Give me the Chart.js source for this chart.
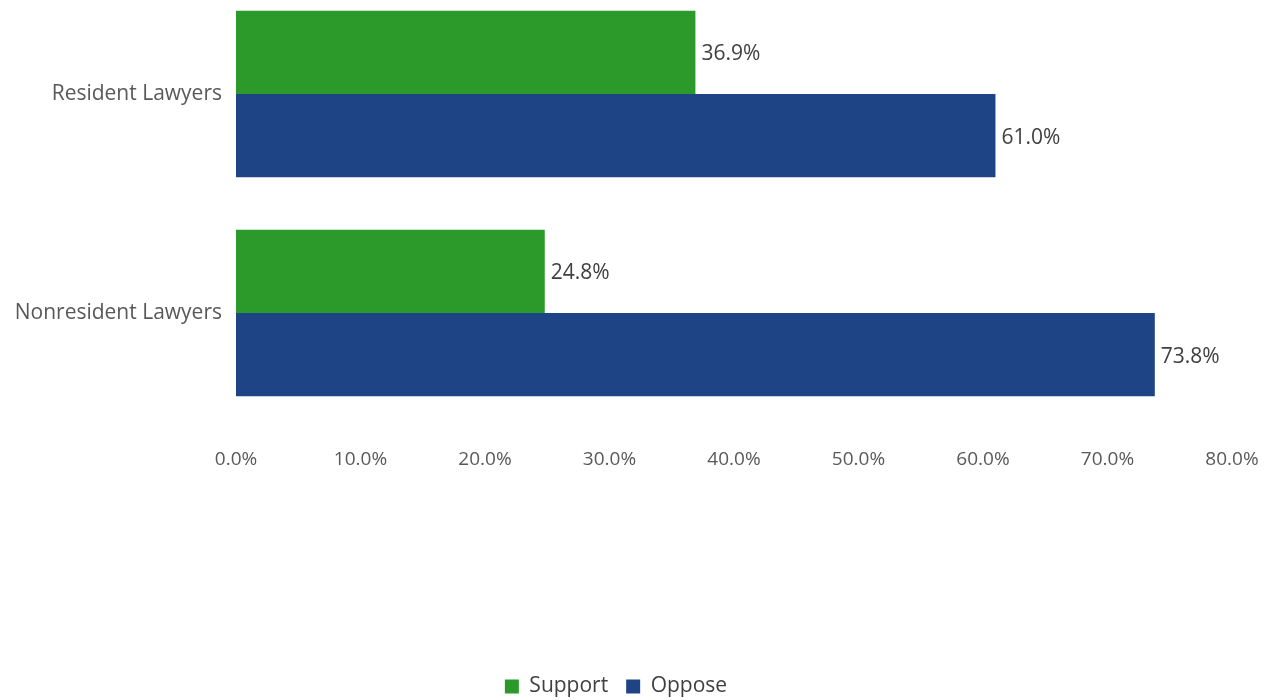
<!DOCTYPE html>
<html>
<head>
<meta charset="utf-8">
<script src="https://cdn.jsdelivr.net/npm/chart.js@4.4.1/dist/chart.umd.min.js"></script>
<style>
  html, body { margin: 0; padding: 0; background: #ffffff; }
  #wrap { width: 1272px; height: 700px; position: relative; }
</style>
</head>
<body>
<div id="wrap"><canvas id="c" width="1272" height="700"></canvas></div>
<script>
const categories = ["Resident Lawyers", "Nonresident Lawyers"];
const supportValues = [36.9, 24.8];
const opposeValues = [61.0, 73.8];
const seriesNames = ["Support", "Oppose"];
const xTickValues = [0, 10, 20, 30, 40, 50, 60, 70, 80];

const GREEN = "#2b9a2b";
const BLUE = "#1f4486";
const FONT = "'Open Sans', 'Noto Sans', sans-serif";

const valueLabels = {
  id: "valueLabels",
  afterDatasetsDraw(chart) {
    const ctx = chart.ctx;
    ctx.save();
    ctx.font = "21px " + FONT;
    ctx.fillStyle = "#404040";
    ctx.textAlign = "left";
    ctx.textBaseline = "middle";
    chart.data.datasets.forEach((ds, di) => {
      const meta = chart.getDatasetMeta(di);
      meta.data.forEach((bar, i) => {
        ctx.fillText(ds.data[i].x.toFixed(1) + "%", bar.x + 6, bar.y + 2);
      });
    });
    ctx.restore();
  }
};

new Chart(document.getElementById("c"), {
  type: "bar",
  data: {
    datasets: [
      {
        label: seriesNames[0],
        data: categories.map((c, i) => ({ y: i, x: supportValues[i] })),
        backgroundColor: GREEN,
        categoryPercentage: 0.76,
        barPercentage: 1.0
      },
      {
        label: seriesNames[1],
        data: categories.map((c, i) => ({ y: i, x: opposeValues[i] })),
        backgroundColor: BLUE,
        categoryPercentage: 0.76,
        barPercentage: 1.0
      }
    ]
  },
  options: {
    indexAxis: "y",
    responsive: false,
    animation: false,
    devicePixelRatio: 1,
    layout: { padding: { top: 0, right: 40, bottom: -7, left: 0 } },
    scales: {
      x: {
        type: "linear",
        min: 0,
        max: 80,
        grid: { display: false, drawTicks: false },
        border: { display: false },
        afterBuildTicks(scale) {
          scale.ticks = xTickValues.map(v => ({ value: v }));
        },
        afterFit(scale) {
          scale.height = 239;
          scale.paddingLeft = 0;
          scale.paddingRight = 0;
        },
        ticks: {
          padding: 29,
          color: "#595959",
          font: { family: FONT, size: 19 },
          callback: v => Number(v).toFixed(1) + "%"
        }
      },
      y: {
        type: "linear",
        reverse: true,
        offset: false,
        min: -0.4295,
        max: 1.484,
        grid: { display: false, drawTicks: false },
        border: { display: false },
        afterBuildTicks(scale) {
          scale.ticks = categories.map((c, i) => ({ value: i }));
        },
        afterFit(scale) {
          scale.width = 236;
          scale.paddingTop = 0;
          scale.paddingBottom = 0;
        },
        ticks: {
          padding: 14,
          color: "#595959",
          font: { family: FONT, size: 21 },
          callback: v => categories[v] !== undefined ? categories[v] : ""
        }
      }
    },
    plugins: {
      legend: {
        position: "bottom",
        labels: {
          boxWidth: 14,
          boxHeight: 14,
          padding: 18,
          color: "#404040",
          font: { family: FONT, size: 21 }
        }
      },
      tooltip: { enabled: false }
    }
  },
  plugins: [valueLabels]
});
</script>
</body>
</html>
